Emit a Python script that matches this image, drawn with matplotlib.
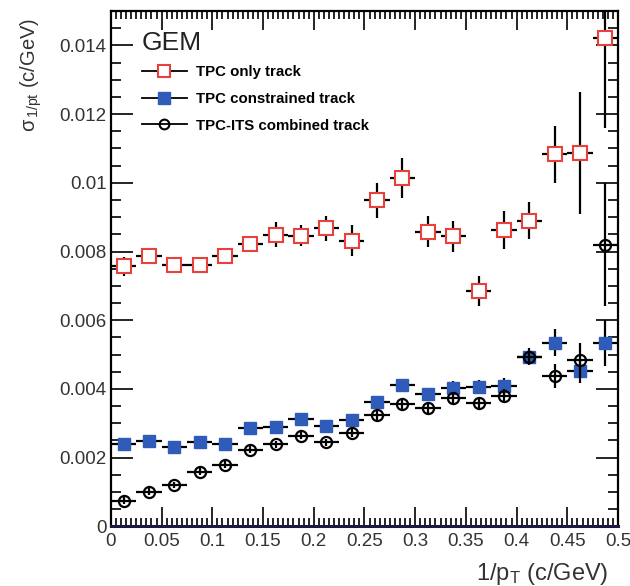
import numpy as np
import matplotlib
matplotlib.use('Agg')
import matplotlib.pyplot as plt
from matplotlib.ticker import MultipleLocator, FuncFormatter
from matplotlib.lines import Line2D

plt.rcParams['font.family'] = ['Liberation Sans', 'DejaVu Sans']
plt.rcParams['mathtext.fontset'] = 'custom'
plt.rcParams['mathtext.rm'] = 'Liberation Sans'
plt.rcParams['mathtext.it'] = 'Liberation Sans'

# 1/pT bins: 20 bins of 0.025 c/GeV
bin_centers = [0.0125, 0.0375, 0.0625, 0.0875, 0.1125, 0.1375, 0.1625, 0.1875, 0.2125, 0.2375,
               0.2625, 0.2875, 0.3125, 0.3375, 0.3625, 0.3875, 0.4125, 0.4375, 0.4625, 0.4875]
bin_half_width = 0.0125

# TPC only
tpc_only = [0.00757, 0.00788, 0.00761, 0.00761, 0.00788, 0.00821, 0.00849, 0.00846, 0.00868, 0.00832,
            0.00949, 0.01013, 0.00858, 0.00844, 0.00686, 0.00862, 0.00890, 0.01083, 0.01087, 0.01421]
tpc_only_err = [0.00027, 0.00015, 0.0001, 0.0001, 0.00015, 0.0002, 0.00036, 0.0003, 0.00036, 0.00046,
                0.0005, 0.00058, 0.00046, 0.00046, 0.00044, 0.00055, 0.00054, 0.00083, 0.00177, 0.0026]

# TPC constrained
tpc_constr = [0.0024, 0.00248, 0.00231, 0.00245, 0.00238, 0.00287, 0.00289, 0.00313, 0.00292, 0.00308,
              0.00361, 0.00411, 0.00384, 0.00403, 0.00405, 0.00407, 0.00494, 0.00535, 0.00451, 0.00534]
tpc_constr_err = [0.0001, 0.0001, 0.0001, 0.0001, 0.0001, 0.0001, 0.0001, 0.00012, 0.00012, 0.00015,
                  0.00018, 0.00018, 0.00018, 0.0002, 0.0002, 0.00025, 0.00025, 0.0004, 0.00034, 0.00066]

# TPC-ITS combined
tpc_its = [0.00074, 0.00101, 0.0012, 0.00159, 0.00179, 0.00223, 0.00238, 0.00264, 0.00245, 0.00272,
           0.00323, 0.00357, 0.00345, 0.00374, 0.00359, 0.00379, 0.00494, 0.00437, 0.00483, 0.0082]
tpc_its_err = [0.0001, 0.0001, 0.0001, 0.0001, 0.0001, 0.0001, 0.0001, 0.0001, 0.0001, 0.00012,
               0.00015, 0.00015, 0.00015, 0.00015, 0.00015, 0.0002, 0.0002, 0.00035, 0.0005, 0.0018]

fig = plt.figure(figsize=(6.3, 5.86), dpi=100)
ax = fig.add_axes([0.176, 0.102, 0.805, 0.879])

x = np.array(bin_centers)
common = dict(xerr=bin_half_width, ls='none', ecolor='black', elinewidth=1.6, capsize=0)

ax.errorbar(x, tpc_only, yerr=tpc_only_err, marker='s', ms=9.5, mfc='white', mec='#e8413c',
            mew=1.5, zorder=3, **common)
ax.errorbar(x, tpc_constr, yerr=tpc_constr_err, marker='s', ms=8, mfc='#2f5cb8', mec='#2f5cb8',
            mew=1, zorder=4, **common)
ax.errorbar(x, tpc_its, yerr=tpc_its_err, marker='o', ms=8, mfc='none', mec='black',
            mew=1.6, zorder=5, **common)

ax.set_xlim(0, 0.5)
ax.set_ylim(0, 0.015)

ax.xaxis.set_major_locator(MultipleLocator(0.05))
ax.xaxis.set_minor_locator(MultipleLocator(0.005))
ax.yaxis.set_major_locator(MultipleLocator(0.002))
ax.yaxis.set_minor_locator(MultipleLocator(0.0005))
ax.xaxis.set_major_formatter(FuncFormatter(lambda v, p: '%g' % round(v, 4)))
ax.yaxis.set_major_formatter(FuncFormatter(lambda v, p: '%g' % round(v, 5)))

ax.tick_params(which='both', direction='in', top=True, right=True, labelsize=13.5, width=1.2,
               colors='black', labelcolor='#333333')
ax.tick_params(axis='y', which='major', length=16, pad=3)
ax.tick_params(axis='y', which='minor', length=7)
ax.tick_params(axis='x', which='major', length=14, pad=5)
ax.tick_params(axis='x', which='minor', length=6)
for s in ax.spines.values():
    s.set_linewidth(1.6)
ax.spines['bottom'].set_color('#1a1a40')
ax.spines['bottom'].set_linewidth(2.2)

fig.text(0.05, 0.97, r'$\sigma_{\,1/pt}$ (c/GeV)', rotation=90, ha='center', va='top',
         fontsize=14.5, color='#333333')
fig.text(0.965, 0.011, r'1/p$_{\rm T}$ (c/GeV)', ha='right', va='baseline', fontsize=17,
         color='#333333')

# legend
ax.text(0.061, 0.939, 'GEM', transform=ax.transAxes, fontsize=19, color='#222222',
        ha='left', va='center')
handles = [
    Line2D([], [], color='black', lw=1.3, marker='s', ms=9, mfc='white', mec='#e8413c', mew=1.5),
    Line2D([], [], color='black', lw=1.3, marker='s', ms=8, mfc='#2f5cb8', mec='#2f5cb8'),
    Line2D([], [], color='black', lw=1.3, marker='o', ms=7, mfc='none', mec='black', mew=1.5),
]
labels = ['TPC only track', 'TPC constrained track', 'TPC-ITS combined track']
ax.legend(handles, labels, loc='upper left', bbox_to_anchor=(0.049, 0.907), frameon=False,
          prop={'size': 10.8, 'weight': 'bold'}, handlelength=3.0, handletextpad=0.6,
          labelspacing=0.85, borderaxespad=0)

fig.savefig('out.png', dpi=100)
